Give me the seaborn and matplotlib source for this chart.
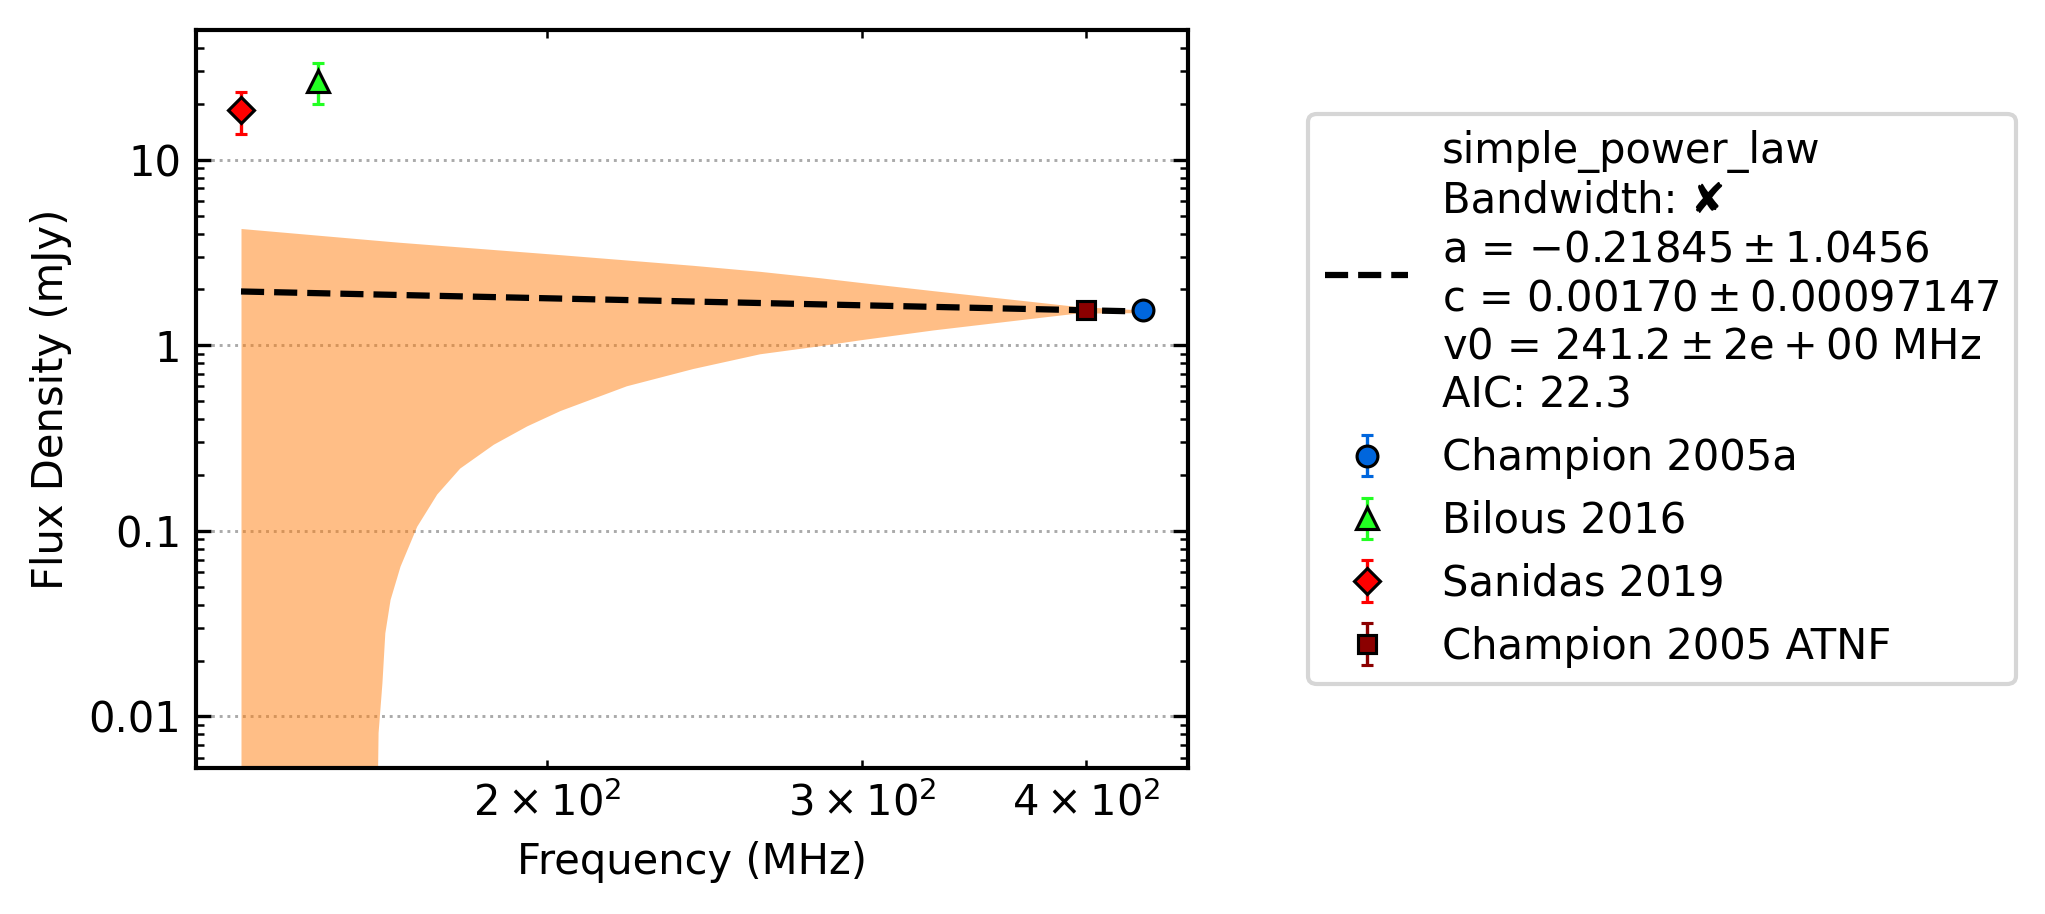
import numpy as np
import matplotlib
matplotlib.use("Agg")
import matplotlib.pyplot as plt
import seaborn as sns
from matplotlib.ticker import FixedLocator, FuncFormatter

# --- data ---
fit_freq = [135.0, 430.0]
fit_flux = [1.95, 1.52]

band_upper_freq = [135.0, 164.9, 204.2, 253.0, 276.8, 314.8, 357.8, 394.9, 430.0]
band_upper_flux = [4.26, 3.60, 3.07, 2.60, 2.38, 2.06, 1.80, 1.62, 1.55]

band_lower_freq = [135.0, 160.5, 160.9, 161.0, 161.8, 162.4, 163.5, 165.6, 169.2, 173.6,
                   178.8, 186.7, 194.9, 203.4, 221.5, 241.3, 262.9, 284.0, 299.0,
                   328.5, 373.5, 394.9, 430.0]
band_lower_flux = [0.001, 0.001, 0.0053, 0.0082, 0.0152, 0.0282, 0.0427, 0.0645, 0.106, 0.158,
                   0.218, 0.293, 0.368, 0.445, 0.605, 0.750, 0.900, 0.995, 1.07,
                   1.21, 1.40, 1.49, 1.50]

surveys = ["Champion 2005a", "Bilous 2016", "Sanidas 2019", "Champion 2005 ATNF"]
freqs = [430.0, 149.0, 135.0, 400.0]
fluxes = [1.54, 26.5, 18.5, 1.54]
flux_errs = [0.10, 6.6, 4.7, 0.10]
markers = ["o", "^", "D", "s"]
colours = ["#0066dd", "#22ff22", "#ff0000", "#8b0000"]
msizes = [5, 5.5, 4.5, 4.5]

fit_label = ("simple_power_law\nBandwidth: \u2718\n"
             "a = $-0.21845 \\pm 1.0456$\n"
             "c = $0.00170 \\pm 0.00097147$\n"
             "v0 = $241.2 \\pm 2e+00$ MHz\n"
             "AIC: 22.3")

sns.set_style("ticks")
plt.rcParams['font.family'] = ['DejaVu Sans']
plt.rcParams['mathtext.default'] = 'regular'
plt.rcParams['font.size'] = 10
for k in ['text.color', 'axes.labelcolor', 'xtick.color', 'ytick.color', 'axes.edgecolor']:
    plt.rcParams[k] = 'black'

fig, ax = plt.subplots(figsize=(2045/300, 914/300), dpi=300)
fig.subplots_adjust(left=0.0958, right=0.581, bottom=0.16, top=0.967)

# uncertainty band of the fit
up = np.exp(np.interp(np.log(band_lower_freq), np.log(band_upper_freq), np.log(band_upper_flux)))
ax.fill_between(band_lower_freq, band_lower_flux, up, color="C1", alpha=0.5,
                linewidth=0, zorder=1)

sns.lineplot(x=fit_freq, y=fit_flux, ax=ax, color="k", linestyle="--", lw=1.5,
             label=fit_label, zorder=3)

for name, f, s, e, m, c, ms in zip(surveys, freqs, fluxes, flux_errs, markers, colours, msizes):
    ax.errorbar(f, s, yerr=e, fmt=m, color=c, ecolor=c, mfc=c, mec="k", mew=0.75,
                ms=ms, elinewidth=0.8, capsize=1.5, capthick=0.8, label=name, zorder=4)

ax.set_xscale("log")
ax.set_yscale("log")
ax.set_xlim(127.4, 455.9)
ax.set_ylim(0.00529, 49.9)

ax.yaxis.set_major_locator(FixedLocator([0.01, 0.1, 1, 10]))
ax.yaxis.set_major_formatter(FuncFormatter(lambda v, p: "{:g}".format(v)))
ax.tick_params(which="both", direction="in", top=True, right=True, colors="black")
ax.tick_params(which="major", length=3.5, width=0.8)
ax.tick_params(which="minor", length=2, width=0.6)
ax.grid(axis="y", which="major", linestyle=":", color="#aaaaaa", linewidth=0.7)
for sp in ax.spines.values():
    sp.set_linewidth(1.0)
    sp.set_color("black")

ax.set_xlabel("Frequency (MHz)")
ax.set_ylabel("Flux Density (mJy)")

ax.legend(loc="center left", bbox_to_anchor=(1.1, 0.5), fontsize=10)

plt.savefig("out.png", dpi=300)
